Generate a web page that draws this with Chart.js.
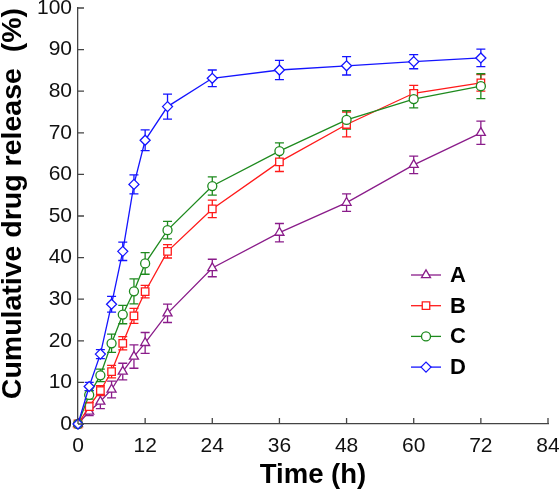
<!DOCTYPE html>
<html>
<head>
<meta charset="utf-8">
<script src="https://cdn.jsdelivr.net/npm/chart.js@4.4.0/dist/chart.umd.min.js"></script>
<style>
  html, body { margin: 0; padding: 0; background: #fff; }
  #wrap { width: 559px; height: 490px; }
</style>
</head>
<body>
<div id="wrap"><canvas id="chart"></canvas></div>
<script>
// time points (h)
var times = [0, 2, 4, 6, 8, 10, 12, 16, 24, 36, 48, 60, 72];

// cumulative release (%)
var seriesA = [0, 3, 5.4, 8.3, 12.6, 16.2, 19.5, 26.6, 37.5, 46, 53.2, 62.3, 70];
var seriesB = [0, 4.2, 8, 12.6, 19.4, 26, 31.8, 41.5, 51.7, 63, 72, 79.5, 82];
var seriesC = [0, 7, 11.7, 19.4, 26.3, 31.9, 38.6, 46.6, 57.2, 65.6, 73.1, 78.1, 81.2];
var seriesD = [0, 9, 16.8, 28.8, 41.5, 57.6, 68.2, 76.3, 83.1, 85.1, 86.1, 87.1, 88];

// error (+/-)
var errA = [0, 1, 1.7, 2, 2, 2.8, 2.5, 2.2, 2.1, 2.2, 2.1, 2.1, 2.8];
var errB = [0, 1, 1.2, 1.5, 1.6, 1.8, 1.5, 1.6, 2.1, 2.3, 3, 1.9, 2];
var errC = [0, 1, 1.5, 2.2, 2.2, 3, 2.6, 2.1, 2.2, 2, 2.2, 2.1, 3];
var errD = [0, 1, 1.1, 1.9, 2.2, 2.3, 2.5, 3, 2, 2.3, 2.2, 1.7, 2.1];

var seriesNames = ['A', 'B', 'C', 'D'];
var xTicks = [0, 12, 24, 36, 48, 60, 72, 84];

function pts(vals, errs) {
  return times.map(function (t, i) { return { x: t, y: vals[i], err: errs[i] }; });
}

function makeSet(label, vals, errs, color, style, radius, order) {
  return {
    label: label,
    data: pts(vals, errs),
    borderColor: color,
    backgroundColor: '#fff',
    borderWidth: 1.3,
    pointStyle: style,
    pointRadius: radius,
    pointBorderWidth: 1.3,
    pointBackgroundColor: '#fff',
    pointBorderColor: color,
    tension: 0,
    clip: false,
    order: order
  };
}

var errorBars = {
  id: 'errorBars',
  beforeDatasetsDraw: function (chart) {
    var ctx = chart.ctx, ys = chart.scales.y, xs = chart.scales.x;
    ctx.save();
    chart.data.datasets.forEach(function (ds) {
      ctx.strokeStyle = ds.borderColor;
      ctx.lineWidth = 1.3;
      ds.data.forEach(function (p) {
        if (!p.err) return;
        var px = xs.getPixelForValue(p.x);
        var top = ys.getPixelForValue(p.y + p.err);
        var bot = ys.getPixelForValue(p.y - p.err);
        ctx.beginPath();
        ctx.moveTo(px, top); ctx.lineTo(px, bot);
        ctx.moveTo(px - 4.5, top); ctx.lineTo(px + 4.5, top);
        ctx.moveTo(px - 4.5, bot); ctx.lineTo(px + 4.5, bot);
        ctx.stroke();
      });
    });
    ctx.restore();
  }
};

var innerTicks = {
  id: 'innerTicks',
  afterDraw: function (chart) {
    var ctx = chart.ctx, xs = chart.scales.x, ys = chart.scales.y, a = chart.chartArea;
    ctx.save();
    ctx.strokeStyle = '#444';
    ctx.lineWidth = 1.3;
    ctx.beginPath();
    xs.ticks.forEach(function (t) {
      var px = xs.getPixelForValue(t.value);
      ctx.moveTo(px, a.bottom); ctx.lineTo(px, a.bottom - 6);
    });
    ys.ticks.forEach(function (t) {
      var py = ys.getPixelForValue(t.value);
      ctx.moveTo(a.left, py); ctx.lineTo(a.left + 6, py);
    });
    ctx.stroke();
    ctx.restore();
  }
};

var insideLegend = {
  id: 'insideLegend',
  afterDraw: function (chart) {
    var ctx = chart.ctx, a = chart.chartArea;
    var x0 = a.left + 333, y0 = a.top + 267, gap = 30.7;
    var sets = chart.data.datasets;
    ctx.save();
    sets.forEach(function (ds, i) {
      var y = y0 + i * gap;
      ctx.strokeStyle = ds.borderColor;
      ctx.lineWidth = 1.3;
      ctx.beginPath();
      ctx.moveTo(x0, y); ctx.lineTo(x0 + 30, y);
      ctx.stroke();
      ctx.fillStyle = '#fff';
      Chart.helpers.drawPoint(ctx, {
        pointStyle: ds.pointStyle, radius: ds.pointRadius, borderWidth: 1.3
      }, x0 + 15, y);
      ctx.fillStyle = '#000';
      ctx.font = 'bold 22px "Liberation Sans", Arial, sans-serif';
      ctx.textBaseline = 'middle';
      ctx.fillText(seriesNames[i], x0 + 39, y + 1);
    });
    ctx.restore();
  }
};

var tickFont = { family: '"Liberation Sans", Arial, sans-serif', size: 21 };

new Chart(document.getElementById('chart'), {
  type: 'line',
  data: {
    datasets: [
      makeSet(seriesNames[0], seriesA, errA, '#8a1c8a', 'triangle', 5.2, 3),
      makeSet(seriesNames[1], seriesB, errB, '#ff1a1a', 'rect', 5.3, 2),
      makeSet(seriesNames[2], seriesC, errC, '#1e8a1e', 'circle', 4.5, 1),
      makeSet(seriesNames[3], seriesD, errD, '#1414ff', 'rectRot', 5, 0)
    ]
  },
  options: {
    responsive: true,
    maintainAspectRatio: false,
    animation: false,
    layout: { padding: { top: 8, right: 11, left: 0, bottom: 0 } },
    plugins: {
      legend: { display: false },
      tooltip: { enabled: false }
    },
    scales: {
      x: {
        type: 'linear',
        min: 0,
        max: 84,
        afterBuildTicks: function (scale) {
          scale.ticks = xTicks.map(function (v) { return { value: v }; });
        },
        afterFit: function (scale) {
          scale.height = 66;
          scale.paddingLeft = 0;
          scale.paddingRight = 0;
        },
        ticks: { font: tickFont, color: '#111', padding: 10, maxRotation: 0 },
        grid: { display: false, drawTicks: false },
        border: { display: true, color: '#444', width: 1.3 },
        title: {
          display: true, text: 'Time (h)', color: '#000', padding: 0,
          font: { family: '"Liberation Sans", Arial, sans-serif', size: 27.5, weight: 'bold', lineHeight: 1.05 }
        }
      },
      y: {
        min: 0,
        max: 100,
        afterFit: function (scale) {
          scale.width = 78;
          scale.paddingTop = 0;
          scale.paddingBottom = 0;
        },
        ticks: { stepSize: 10, font: tickFont, color: '#111', padding: 6 },
        grid: { display: false, drawTicks: false },
        border: { display: true, color: '#444', width: 1.3 },
        title: {
          display: true, text: 'Cumulative drug release  (%)', color: '#000', padding: 0, align: 'end',
          font: { family: '"Liberation Sans", Arial, sans-serif', size: 28.5, weight: 'bold', lineHeight: 0.95 }
        }
      }
    }
  },
  plugins: [errorBars, innerTicks, insideLegend]
});
</script>
</body>
</html>
